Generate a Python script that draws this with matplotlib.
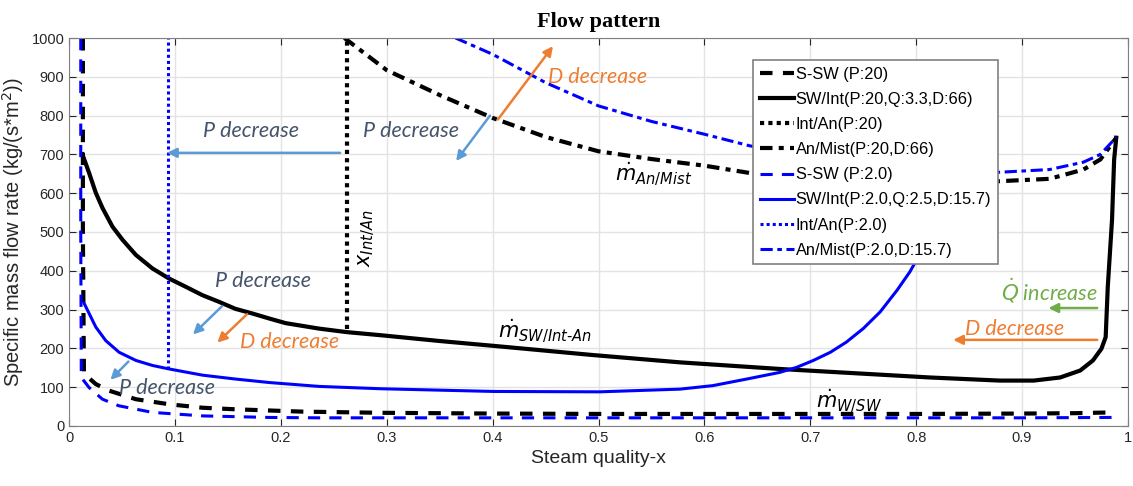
import matplotlib.pyplot as plt
import numpy as np

# ---------------- data ----------------
# P = 20 (black)
x_ssw_20 = [0.013, 0.013, 0.014, 0.0252, 0.0378, 0.063, 0.0944, 0.126, 0.157, 0.22, 0.294, 0.4, 0.5, 0.6, 0.7,
            0.8, 0.9, 0.95, 0.985]
y_ssw_20 = [1000, 500, 135, 108, 91, 69, 56, 47, 43, 37, 34, 32, 31, 31, 31,
            31, 32, 33, 35]

x_swint_20 = [0.0126, 0.0189, 0.0252, 0.0315, 0.0409, 0.0504, 0.063, 0.0787, 0.0944, 0.110, 0.126, 0.1416,
              0.157, 0.173, 0.189, 0.2046, 0.236, 0.262, 0.294, 0.35, 0.407, 0.494, 0.577, 0.671, 0.813,
              0.879, 0.911, 0.936, 0.955, 0.967, 0.975, 0.979, 0.981, 0.985, 0.987, 0.989]
y_swint_20 = [700, 652, 601, 562, 514, 480, 441, 406, 380, 359, 337, 320,
              302, 290, 277, 265, 251, 242, 234, 219, 205, 183, 164, 147, 125,
              117, 117, 125, 143, 169, 199, 229, 359, 531, 687, 743]

x_intan_20 = [0.2625, 0.2625]
y_intan_20 = [250, 1000]

x_anmist_20 = [0.26, 0.3, 0.35, 0.4, 0.45, 0.5, 0.55, 0.6, 0.643, 0.7, 0.75, 0.8, 0.879, 0.926, 0.958, 0.974, 0.989]
y_anmist_20 = [1000, 917, 853, 794, 745, 708, 688, 671, 652, 640, 632, 628, 631, 637, 661, 687, 743]

# P = 2.0 (blue)
x_ssw_2 = [0.011, 0.011, 0.0115, 0.0189, 0.0315, 0.047, 0.0787, 0.126, 0.189, 0.236, 0.3, 0.4, 0.5, 0.6, 0.7,
           0.8, 0.9, 0.985]
y_ssw_2 = [1000, 500, 125, 99, 69, 52, 35, 26, 22, 21, 21, 21, 21, 21, 21,
           21, 21, 22]

# the end of this curve is hidden behind the legend
x_swint_2 = [0.0142, 0.0189, 0.0252, 0.0346, 0.0472, 0.063, 0.0787, 0.0944, 0.126, 0.157, 0.189, 0.236, 0.294,
             0.401, 0.501, 0.577, 0.608, 0.640, 0.671, 0.687, 0.703, 0.719, 0.734, 0.750, 0.766, 0.782,
             0.794, 0.805, 0.815, 0.825, 0.835]
y_swint_2 = [316, 290, 255, 220, 190, 169, 156, 147, 131, 121, 112, 102, 96,
             89, 88, 95, 104, 121, 138, 151, 169, 190, 216, 251, 294, 350,
             397, 450, 520, 610, 730]

x_intan_2 = [0.0935, 0.0935]
y_intan_2 = [148, 1000]

x_anmist_2 = [0.365, 0.4, 0.45, 0.5, 0.55, 0.6, 0.643, 0.7, 0.75, 0.8, 0.879, 0.926, 0.958, 0.974, 0.989]
y_anmist_2 = [1000, 958, 885, 825, 785, 752, 722, 695, 678, 665, 654, 661, 680, 700, 744]

labels = ['S-SW (P:20)', 'SW/Int(P:20,Q:3.3,D:66)', 'Int/An(P:20)', 'An/Mist(P:20,D:66)',
          'S-SW (P:2.0)', 'SW/Int(P:2.0,Q:2.5,D:15.7)', 'Int/An(P:2.0)', 'An/Mist(P:2.0,D:15.7)']

# ---------------- plot ----------------
plt.rcParams['font.family'] = ['Liberation Sans', 'DejaVu Sans']
fig = plt.figure(figsize=(11.33, 4.86), dpi=100)
ax = fig.add_axes([0.061, 0.1235, 0.9345, 0.7983])

blk = '#000000'
blu = '#0000ff'
ax.plot(x_ssw_20, y_ssw_20, color=blk, lw=3.0, ls=(0, (3, 2.5)), label=labels[0])
ax.plot(x_swint_20, y_swint_20, color=blk, lw=3.0, ls='-', label=labels[1])
ax.plot(x_intan_20, y_intan_20, color=blk, lw=3.0, ls=(0, (1, 1)), label=labels[2])
ax.plot(x_anmist_20, y_anmist_20, color=blk, lw=3.0, ls=(0, (3, 1.5, 1.2, 1.5)), label=labels[3])
ax.plot(x_ssw_2, y_ssw_2, color=blu, lw=2.2, ls=(0, (4, 3)), label=labels[4])
ax.plot(x_swint_2, y_swint_2, color=blu, lw=2.2, ls='-', label=labels[5])
ax.plot(x_intan_2, y_intan_2, color=blu, lw=2.2, ls=(0, (1, 1)), label=labels[6])
ax.plot(x_anmist_2, y_anmist_2, color=blu, lw=2.2, ls=(0, (4, 1.5, 1.5, 1.5)), label=labels[7])

ax.set_xlim(0, 1)
ax.set_ylim(0, 1000)
ax.set_xticks(np.arange(0, 1.01, 0.1))
ax.set_xticklabels(['0', '0.1', '0.2', '0.3', '0.4', '0.5', '0.6', '0.7', '0.8', '0.9', '1'])
ax.set_yticks(np.arange(0, 1001, 100))
ax.grid(True, color='#e3e3e3', lw=1.0)
ax.set_axisbelow(True)
ax.tick_params(direction='in', top=True, right=True, labelsize=10.5, colors='#262626', length=5)
for s in ax.spines.values():
    s.set_color('#808080')

ax.set_title('Flow pattern', fontsize=16, fontweight='bold', family='Liberation Serif', pad=8)
ax.set_xlabel('Steam quality-x', fontsize=14, color='#262626')
ax.set_ylabel('Specific mass flow rate (kg/(s*m$^2$))', fontsize=14.5, color='#262626')

leg = ax.legend(loc='upper left', bbox_to_anchor=(0.646, 0.943), fontsize=11.8, frameon=True,
                fancybox=False, edgecolor='#808080', framealpha=1, handlelength=2.1, handletextpad=0.1,
                borderpad=0.4, labelspacing=0.62, borderaxespad=0)
leg.get_frame().set_linewidth(1.2)

# ---------------- annotations ----------------
afont = ['Lato', 'DejaVu Sans']
slate = '#44546a'
lblue = '#5b9bd5'
orange = '#ed7d31'
green = '#70ad47'

def arrow(x0, y0, x1, y1, c):
    ax.annotate('', xy=(x1, y1), xytext=(x0, y0),
                arrowprops=dict(arrowstyle='-|>', color=c, lw=1.8, mutation_scale=14, shrinkA=0, shrinkB=0))

ax.text(0.1265, 761, 'P decrease', style='italic', family=afont, fontsize=15.5, color=slate, va='center')
arrow(0.256, 704, 0.0925, 704, lblue)
ax.text(0.278, 761, 'P decrease', style='italic', family=afont, fontsize=15.5, color=slate, va='center')
arrow(0.3975, 800, 0.3655, 683, lblue)
arrow(0.405, 790, 0.457, 979, orange)
ax.text(0.452, 899, 'D decrease', style='italic', family=afont, fontsize=15.5, color=orange, va='center')
ax.text(0.516, 652, r'$\dot{m}_{\mathit{An/Mist}}$', fontsize=15, color=blk, va='center')
ax.text(0.272, 483, r'$x_{\mathit{Int/An}}$', fontsize=15, color=blk, va='center', rotation=90)

ax.text(0.138, 374, 'P decrease', style='italic', family=afont, fontsize=15.5, color=slate, va='center')
arrow(0.1445, 309, 0.117, 236, lblue)
arrow(0.168, 288, 0.140, 215, orange)
ax.text(0.161, 216, 'D decrease', style='italic', family=afont, fontsize=15.5, color=orange, va='center')
ax.text(0.047, 98, 'P decrease', style='italic', family=afont, fontsize=15.5, color=slate, va='center')
arrow(0.056, 166, 0.039, 119, lblue)

ax.text(0.405, 245, r'$\dot{m}_{\mathit{SW/Int\text{-}An}}$', fontsize=15, color=blk, va='center')
ax.text(0.705, 66, r'$\dot{m}_{\mathit{W/SW}}$', fontsize=15, color=blk, va='center')

ax.text(0.880, 349, r'$\dot{Q}$ increase', style='italic', family=afont, fontsize=15.5, color=green, va='center')
arrow(0.971, 304, 0.925, 304, green)
ax.text(0.846, 249, 'D decrease', style='italic', family=afont, fontsize=15.5, color=orange, va='center')
arrow(0.971, 222, 0.835, 222, orange)

fig.savefig('out.png', dpi=100)
